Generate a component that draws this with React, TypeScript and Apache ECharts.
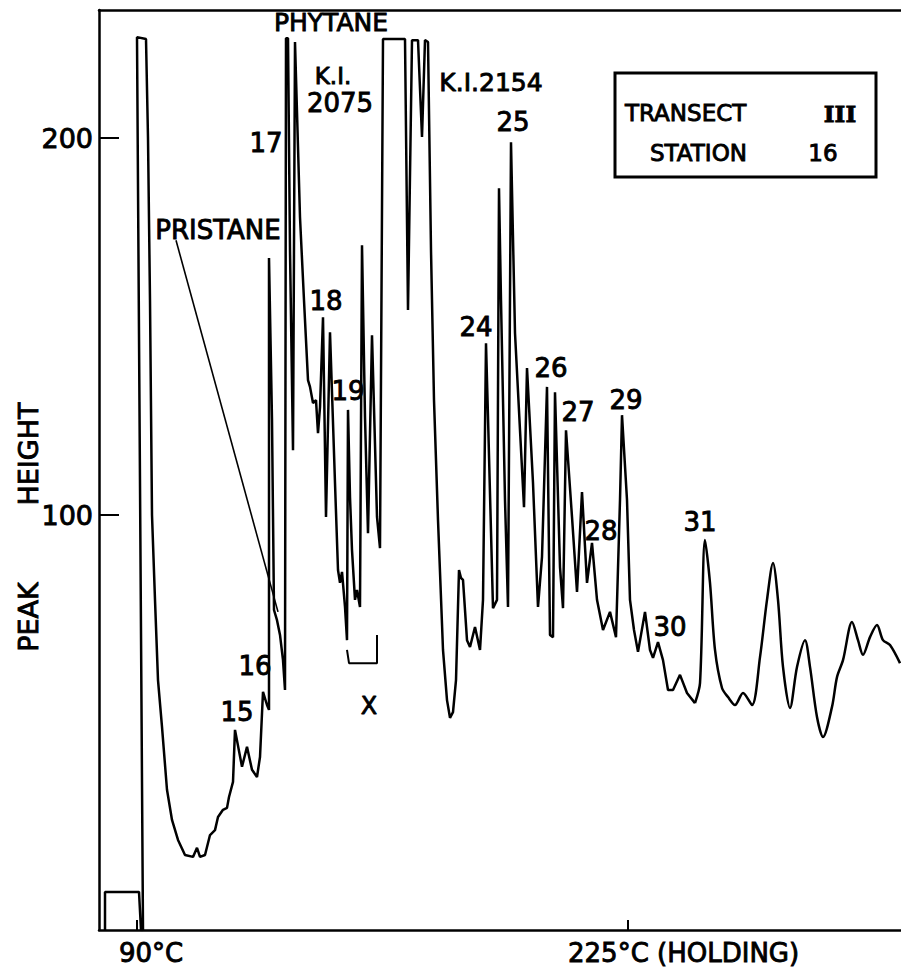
import React, { useEffect, useRef } from "react";
import * as echarts from "echarts";

// Retention (arbitrary time units) vs peak height
const solventTrace: [number, number][] = [
  [0.6, -10.1], [0.6, 0], [4.0, 0], [4.2, -10.1], [4.4, -10.1], [3.8, 226.8], [4.7, 226.3],
  [4.9, 200], [5.1, 157.0], [5.3, 100], [5.6, 77.5], [5.9, 56.2], [6.3, 43.8], [6.8, 27.1],
  [7.3, 19.1], [7.9, 13.8], [8.6, 9.8], [9.4, 9.3], [9.8, 11.7], [10.1, 9.3], [10.6, 9.8],
  [11.1, 15.1], [11.6, 16.4], [11.9, 19.9], [12.4, 21.8], [12.8, 22.3], [13.0, 25.2], [13.4, 29.2],
];

const earlyTrace: [number, number][] = [
  [13.6, 43.0], [14.3, 33.2], [14.8, 38.5], [15.3, 32.4], [15.8, 30.5], [16.1, 35.8], [16.4, 53.1],
  [16.8, 49.6], [17.0, 48.3], [17.0, 168.2], [17.3, 125.2], [17.5, 74.8], [17.8, 72.1], [18.1, 68.2],
  [18.4, 61.5], [18.6, 53.6], [18.7, 226.5], [18.9, 226.5], [19.1, 170.3], [19.4, 117.2], [19.6, 225.5],
  [20.1, 179.0], [20.5, 157.0], [20.9, 135.8], [21.1, 134.0], [21.4, 129.7], [21.7, 130.5], [21.9, 121.7],
  [22.1, 128.6], [22.4, 152.5], [22.7, 99.5], [23.1, 148.5], [23.6, 108.5], [23.9, 85.4], [24.1, 82.0],
  [24.3, 84.9], [24.6, 75.6], [24.8, 66.8], [24.9, 127.9], [25.1, 104.8], [25.3, 90.7], [25.6, 77.5],
  [25.8, 80.1], [26.1, 75.6], [26.3, 171.6], [26.6, 126.0], [26.9, 95.2], [27.3, 147.7], [27.8, 99.5],
  [28.1, 91.2],
];

const midTrace: [number, number][] = [
  [28.4, 226.3], [30.6, 226.3], [30.9, 154.4], [31.3, 226.0], [31.9, 226.0], [32.3, 200.3], [32.6, 226.0],
  [32.9, 225.5], [33.2, 170.3], [33.5, 130.5], [33.9, 98.7], [34.4, 64.2], [34.8, 50.9], [35.1, 46.2],
  [35.4, 47.7], [35.7, 56.2], [36.0, 85.4], [36.2, 83.3], [36.4, 82.8], [36.8, 66.8], [37.1, 65.0],
  [37.6, 70.3], [38.1, 64.2], [38.4, 77.5], [38.7, 145.6], [38.9, 126.0], [39.4, 75.3], [39.8, 77.5],
  [40.0, 186.7], [40.2, 157.0], [40.6, 104.0], [40.9, 75.6],
];

const lateTrace: [number, number][] = [
  [41.2, 198.9], [41.6, 148.3], [42.1, 122.5], [42.5, 102.1], [42.8, 139.0], [43.4, 108.5], [43.9, 75.6],
  [44.3, 88.9], [44.8, 134.0], [45.1, 68.2], [45.4, 67.6], [45.6, 132.6], [46.1, 86.2], [46.4, 75.3],
  [46.7, 122.5], [47.3, 99.5], [47.8, 79.6], [48.3, 106.1], [48.8, 82.0], [49.3, 92.6], [49.8, 77.5],
  [50.4, 69.5], [51.1, 74.3], [51.7, 67.6], [52.1, 104.0], [52.3, 126.5], [52.8, 104.0], [53.1, 77.5],
  [53.5, 69.5], [53.9, 63.7], [54.6, 74.3], [55.1, 64.2], [55.4, 62.1], [55.9, 66.3], [56.4, 61.5],
  [56.9, 53.6], [57.4, 53.6], [58.1, 57.6], [58.8, 52.8], [59.6, 50.1],
];

const tailTrace: [number, number][] = [
  [59.6, 50.1], [60.1, 55.4], [60.6, 93.4], [61.1, 82.0], [61.6, 64.2], [62.3, 54.1], [62.9, 51.7],
  [63.6, 49.6], [64.4, 52.8], [65.3, 49.6], [66.1, 62.3], [66.8, 77.5], [67.4, 87.3], [67.9, 77.5],
  [68.4, 59.7], [69.1, 48.8], [69.8, 59.7], [70.6, 66.8], [71.1, 59.7], [71.8, 46.4], [72.4, 41.1],
  [73.3, 49.1], [73.8, 57.0], [74.4, 61.5], [75.3, 71.6], [75.9, 66.8], [76.4, 62.9], [77.1, 67.6],
  [77.8, 70.8], [78.4, 66.8], [79.1, 65.5], [80.1, 60.7],
];

const xMarker: [number, number][] = [[24.8, 64.2], [25.0, 60.7], [27.8, 60.7], [27.8, 68.2]];
const pristaneLeader: [number, number][] = [[7.7, 172.9], [17.9, 74.3]];

const yTickValues = [100, 200];
const xTickValues = [3.8, 52.9];
const xTickLabels = ["90°C", "225°C (HOLDING)"];

const FONT = "DejaVu Sans";

export default function App() {
  const ref = useRef<HTMLDivElement>(null);
  useEffect(() => {
    if (!ref.current) return;
    const chart = echarts.init(ref.current, null, { renderer: "svg" });
    const line = { color: "#000", width: 2.5 };
    const txt = (text: string, x: number, y: number, size = 26, align = "center", extra: any = {}, font = FONT, weight = "normal") => ({
      type: "text",
      x,
      y,
      ...extra,
      style: {
        text,
        fontSize: size,
        fontFamily: font,
        fontWeight: weight,
        fill: "#000",
        stroke: "#000",
        lineWidth: 0.9,
        align,
        verticalAlign: "middle",
      },
    });
    const mainTrace = [...solventTrace, ...earlyTrace, ...midTrace, ...lateTrace];
    chart.setOption({
      animation: false,
      backgroundColor: "#fff",
      grid: { left: 99, top: 10, right: 0, bottom: 42 },
      xAxis: [
        {
          type: "value",
          min: 0,
          max: 80.2,
          position: "bottom",
          axisLine: { show: true, onZero: false, lineStyle: line },
          axisTick: { show: true, inside: true, length: 10, customValues: xTickValues, lineStyle: { color: "#000", width: 2 } },
          axisLabel: { show: false },
          splitLine: { show: false },
        },
        {
          type: "value",
          min: 0,
          max: 80.2,
          position: "top",
          axisLine: { show: true, onZero: false, lineStyle: line },
          axisTick: { show: false },
          axisLabel: { show: false },
          splitLine: { show: false },
        },
      ],
      yAxis: {
        type: "value",
        min: -10.1,
        max: 234,
        axisLine: { show: true, onZero: false, lineStyle: line },
        axisTick: { show: true, inside: true, length: 20, customValues: yTickValues, lineStyle: { color: "#000", width: 2 } },
        axisLabel: { customValues: yTickValues, fontSize: 27, fontFamily: FONT, color: "#000", margin: 6, textBorderColor: "#000", textBorderWidth: 0.9 },
        splitLine: { show: false },
      },
      series: [
        { type: "line", data: mainTrace, symbol: "none", lineStyle: line, silent: true },
        { type: "line", data: tailTrace, symbol: "none", smooth: 0.3, lineStyle: line, silent: true },
        { type: "line", data: xMarker, symbol: "none", lineStyle: { color: "#000", width: 2 }, silent: true },
        { type: "line", data: pristaneLeader, symbol: "none", lineStyle: { color: "#000", width: 1.6 }, silent: true },
      ],
      graphic: [
        txt(xTickLabels[0], 151, 953, 26),
        txt(xTickLabels[1], 568, 953, 26, "left"),
        txt("HEIGHT", 28, 454, 27, "center", { rotation: Math.PI / 2 }),
        txt("PEAK", 28, 617, 27, "center", { rotation: Math.PI / 2 }),
        txt("PHYTANE", 331, 22, 25),
        txt("K.I.", 333, 76, 23),
        txt("2075", 340, 103, 26),
        txt("17", 266, 143, 26),
        txt("PRISTANE", 218, 230, 26),
        txt("18", 326, 301, 26),
        txt("19", 348, 391, 26),
        txt("K.I.2154", 491, 82, 25),
        txt("25", 513, 122, 26),
        txt("24", 476, 327, 26),
        txt("26", 551, 368, 26),
        txt("27", 578, 412, 26),
        txt("29", 626, 400, 26),
        txt("28", 601, 531, 26),
        txt("31", 700, 522, 26),
        txt("30", 670, 627, 26),
        txt("15", 237, 712, 26),
        txt("16", 255, 666, 26),
        txt("X", 369, 706, 24),
        {
          type: "rect",
          shape: { x: 615, y: 73, width: 261, height: 104 },
          style: { fill: "none", stroke: "#000", lineWidth: 3 },
        },
        txt("TRANSECT", 625, 113, 23, "left"),
        txt("III", 840, 113, 23, "center", {}, "DejaVu Serif", "bold"),
        txt("STATION", 650, 153, 23, "left"),
        txt("16", 823, 153, 23),
      ],
    });
    return () => chart.dispose();
  }, []);
  return (
    <div style={{ position: "fixed", left: 0, top: 0, width: 901, height: 972, background: "#fff" }}>
      <div ref={ref} style={{ width: 901, height: 972 }} />
    </div>
  );
}
